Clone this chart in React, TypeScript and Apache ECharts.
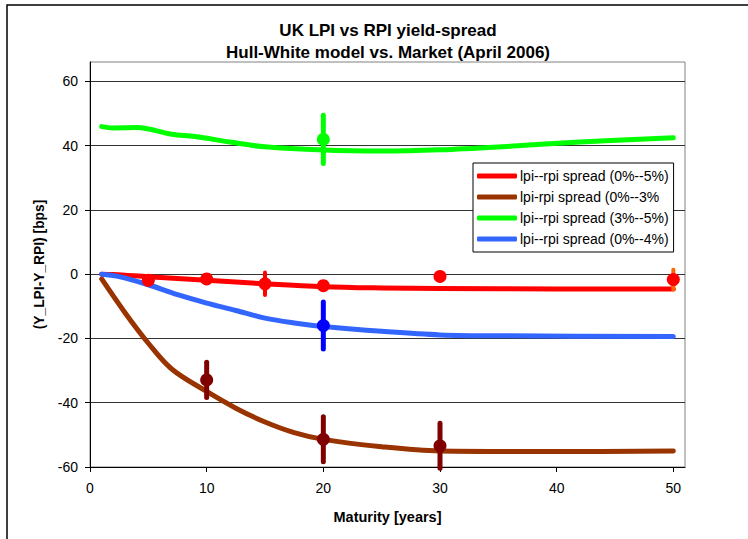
import React, { useEffect, useRef } from "react";
import * as echarts from "echarts";

// ---- Data ----
const redModelX = [1, 2, 5, 10, 15, 20, 25, 30, 40, 50];
const redModelY = [0, -0.1, -0.8, -1.9, -3.0, -3.9, -4.3, -4.5, -4.6, -4.6];

const brownModelX = [1, 3, 5, 7, 10, 12.5, 15, 17.5, 20, 25, 30, 40, 50];
const brownModelY = [-1.5, -12, -21.5, -29.5, -36.5, -41.7, -46, -49.3, -51.4, -53.7, -55, -55.2, -55];

const greenModelX = [1, 2, 4, 7, 9, 12, 15, 20, 25, 30, 36, 42, 50];
const greenModelY = [45.9, 45.5, 45.6, 43.5, 42.8, 41.1, 39.6, 38.6, 38.3, 38.7, 39.8, 41.1, 42.4];

const blueModelX = [1, 2.4, 5, 7.5, 10, 12.5, 15, 17.5, 20, 25, 30, 36, 50];
const blueModelY = [0, -0.7, -3.3, -6.4, -9, -11.3, -13.7, -15.2, -16.3, -17.8, -18.9, -19.2, -19.4];

const redMktX = [5, 10, 15, 20, 30, 50];
const redMktY = [-1.9, -1.5, -3.0, -3.6, -0.7, -1.7];
const redMktErr = [0, 0, 3.5, 0, 0, 3.1];

const brownMktX = [10, 20, 30];
const brownMktY = [-32.9, -51.4, -53.4];
const brownMktErr = [5.5, 7, 7];

const greenMktX = [20];
const greenMktY = [41.9];
const greenMktErr = [7.5];

const blueMktX = [20];
const blueMktY = [-16];
const blueMktErr = [7.3];

const xTicks = [0, 10, 20, 30, 40, 50];
const yTicks = [-60, -40, -20, 0, 20, 40, 60];

const seriesNames = [
  "lpi--rpi spread (0%--5%)",
  "lpi-rpi spread (0%--3%",
  "lpi--rpi spread (3%--5%)",
  "lpi--rpi spread (0%--4%)",
];

const FONT = "'Liberation Sans', Arial, sans-serif";

const zip = (xs: number[], ys: number[]) => xs.map((x, i) => [x, ys[i]]);

const errData = (xs: number[], ys: number[], es: number[], color: string, special?: Record<number, string>) =>
  xs
    .map((x, i) => ({ x, y: ys[i], e: es[i], i }))
    .filter((d) => d.e > 0)
    .map((d) => ({
      value: [d.x, d.y - d.e, d.y + d.e],
      itemStyle: { color: special && special[d.x] ? special[d.x] : color },
    }));

const errSeries = (data: any[], width: number) => ({
  type: "custom",
  z: 4,
  renderItem: (params: any, api: any) => {
    const x = api.value(0);
    const p1 = api.coord([x, api.value(1)]);
    const p2 = api.coord([x, api.value(2)]);
    return {
      type: "line",
      shape: { x1: p1[0], y1: p1[1], x2: p2[0], y2: p2[1] },
      style: { stroke: api.visual("color"), lineWidth: width, lineCap: "round" },
    };
  },
  data,
});

const lineSeries = (name: string, xs: number[], ys: number[], color: string) => ({
  name,
  type: "line",
  smooth: 0.35,
  showSymbol: false,
  symbol: "none",
  z: 3,
  lineStyle: { color, width: 5, cap: "round", join: "round" },
  itemStyle: { color },
  data: zip(xs, ys),
});

const scatterSeries = (xs: number[], ys: number[], color: string) => ({
  type: "scatter",
  symbol: "circle",
  symbolSize: 13,
  z: 5,
  itemStyle: { color, opacity: 1 },
  data: zip(xs, ys),
});

export default function App() {
  const ref = useRef<HTMLDivElement>(null);
  useEffect(() => {
    if (!ref.current) return;
    const chart = echarts.init(ref.current, undefined, { renderer: "svg" });
    chart.setOption({
      animation: false,
      backgroundColor: "#fff",
      textStyle: { fontFamily: FONT },
      grid: {
        left: 90,
        right: 63,
        top: 62,
        bottom: 72,
        show: true,
        borderColor: "#808080",
        borderWidth: 1,
        backgroundColor: "#fff",
      },
      legend: {
        data: seriesNames,
        orient: "vertical",
        left: 473,
        top: 163,
        icon: "roundRect",
        itemWidth: 40,
        itemHeight: 5,
        itemGap: 7,
        padding: [6, 5, 6, 4],
        backgroundColor: "#fff",
        borderColor: "#000",
        borderWidth: 1,
        borderRadius: 0,
        textStyle: { fontSize: 14, color: "#000", fontFamily: FONT, padding: [0, 0, 0, -2] },
      },
      graphic: [
        {
          type: "polyline",
          shape: { points: [[7, 560], [7, 5], [760, 5]] },
          style: { stroke: "#000", lineWidth: 1.5, fill: "none" },
          silent: true,
        },
        {
          type: "text",
          x: 388,
          y: 30,
          style: {
            text: "UK LPI vs RPI yield-spread",
            fontFamily: FONT,
            fontWeight: "bold",
            fontSize: 17,
            fill: "#000",
            textAlign: "center",
            textVerticalAlign: "middle",
          },
        },
        {
          type: "text",
          x: 388,
          y: 52,
          style: {
            text: "Hull-White model vs. Market (April 2006)",
            fontFamily: FONT,
            fontWeight: "bold",
            fontSize: 17,
            fill: "#000",
            textAlign: "center",
            textVerticalAlign: "middle",
          },
        },
      ],
      xAxis: {
        type: "value",
        min: 0,
        max: 51,
        interval: 10,
        name: "Maturity [years]",
        nameLocation: "middle",
        nameGap: 42,
        nameTextStyle: { fontWeight: "bold", fontSize: 14.5, color: "#000", fontFamily: FONT },
        axisLine: { show: true, onZero: false, lineStyle: { color: "#000", width: 1 } },
        axisTick: { show: true, inside: false, length: 5, lineStyle: { color: "#000" }, customValues: xTicks },
        axisLabel: { margin: 14, fontSize: 14, color: "#000", fontFamily: FONT, customValues: xTicks },
        splitLine: { show: false },
      },
      yAxis: {
        type: "value",
        min: -60,
        max: 66,
        interval: 20,
        name: "(Y_LPI-Y_RPI) [bps]",
        nameLocation: "middle",
        nameGap: 37,
        nameTextStyle: { fontWeight: "bold", fontSize: 13.8, color: "#000", fontFamily: FONT },
        axisLine: { show: true, onZero: false, lineStyle: { color: "#000", width: 1 } },
        axisTick: { show: true, inside: false, length: 5, lineStyle: { color: "#000" }, customValues: yTicks },
        axisLabel: { margin: 12, fontSize: 14, color: "#000", fontFamily: FONT, customValues: yTicks },
        splitLine: { show: true, lineStyle: { color: "#333", width: 1 } },
      },
      series: [
        lineSeries(seriesNames[0], redModelX, redModelY, "#FF0000"),
        lineSeries(seriesNames[1], brownModelX, brownModelY, "#993300"),
        lineSeries(seriesNames[2], greenModelX, greenModelY, "#00FF00"),
        lineSeries(seriesNames[3], blueModelX, blueModelY, "#3366FF"),
        errSeries(errData(redMktX, redMktY, redMktErr, "#FF0000", { 50: "#FF6600" }), 4),
        errSeries(errData(brownMktX, brownMktY, brownMktErr, "#800000"), 5),
        errSeries(errData(greenMktX, greenMktY, greenMktErr, "#00FF00"), 5),
        errSeries(errData(blueMktX, blueMktY, blueMktErr, "#0000FF"), 5),
        scatterSeries(redMktX, redMktY, "#FF0000"),
        scatterSeries(brownMktX, brownMktY, "#800000"),
        scatterSeries(greenMktX, greenMktY, "#00FF00"),
        scatterSeries(blueMktX, blueMktY, "#0000FF"),
      ],
    });
    return () => chart.dispose();
  }, []);
  return (
    <div
      ref={ref}
      style={{ position: "fixed", left: 0, top: 0, width: 748, height: 539 }}
    />
  );
}
